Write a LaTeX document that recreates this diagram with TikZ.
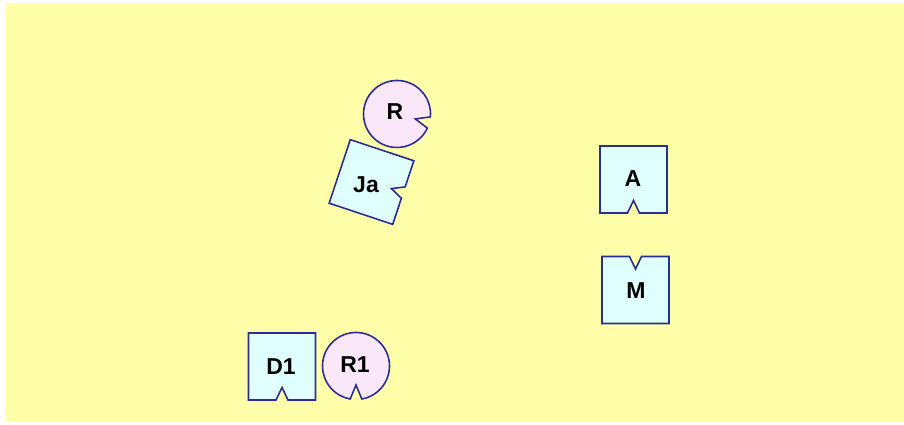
\documentclass[tikz,border=0pt]{standalone}
\usepackage{fontspec}
\setmainfont{Liberation Sans}
\definecolor{bgyellow}{RGB}{255,255,170}
\definecolor{boxfill}{RGB}{224,255,255}
\definecolor{circfill}{RGB}{250,232,250}
\definecolor{edgeblue}{RGB}{44,44,150}
\tikzset{
  shapeline/.style={draw=edgeblue, line width=1.6pt, line join=miter},
  lbl/.style={font=\fontsize{23}{26}\selectfont\bfseries, text=black, inner sep=0pt},
  notchbox/.pic={
    \path[shapeline, fill=boxfill]
      (-33.5,33.5) -- (33.5,33.5) -- (33.5,-33.5) -- (6,-33.5) -- (0,-21)
      -- (-6,-33.5) -- (-33.5,-33.5) -- cycle;
  },
  notchcirc/.pic={
    \path[shapeline, fill=circfill]
      (-80:33.5) arc[start angle=-80, end angle=260, radius=33.5]
      -- (0,-19) -- cycle;
  }
}
\begin{document}
\begin{tikzpicture}[x=1pt,y=1pt]
\useasboundingbox (0,0) rectangle (904,425);
\fill[bgyellow] (6,3) rectangle (904,422);
% boxes (screen coords converted: Y = 425 - y)
\pic[rotate=0] at (633.5,245.5) {notchbox};
\pic[rotate=180] at (635.5,135) {notchbox};
\pic[rotate=0] at (282,58.5) {notchbox};
\pic[rotate=71.6] at (371.5,243) {notchbox};
% circles
\pic[rotate=0] at (356,59) {notchcirc};
\pic[rotate=75] at (397,311) {notchcirc};
% labels
\node[lbl] (A) at (633,246) {A};
\node[lbl] (M) at (636,134) {M};
\node[lbl] (D1) at (281,58) {D1};
\node[lbl] (R1) at (355,60) {R1};
\node[lbl] (R) at (395,313) {R};
\node[lbl] (Ja) at (366,240) {Ja};
\end{tikzpicture}
\end{document}
